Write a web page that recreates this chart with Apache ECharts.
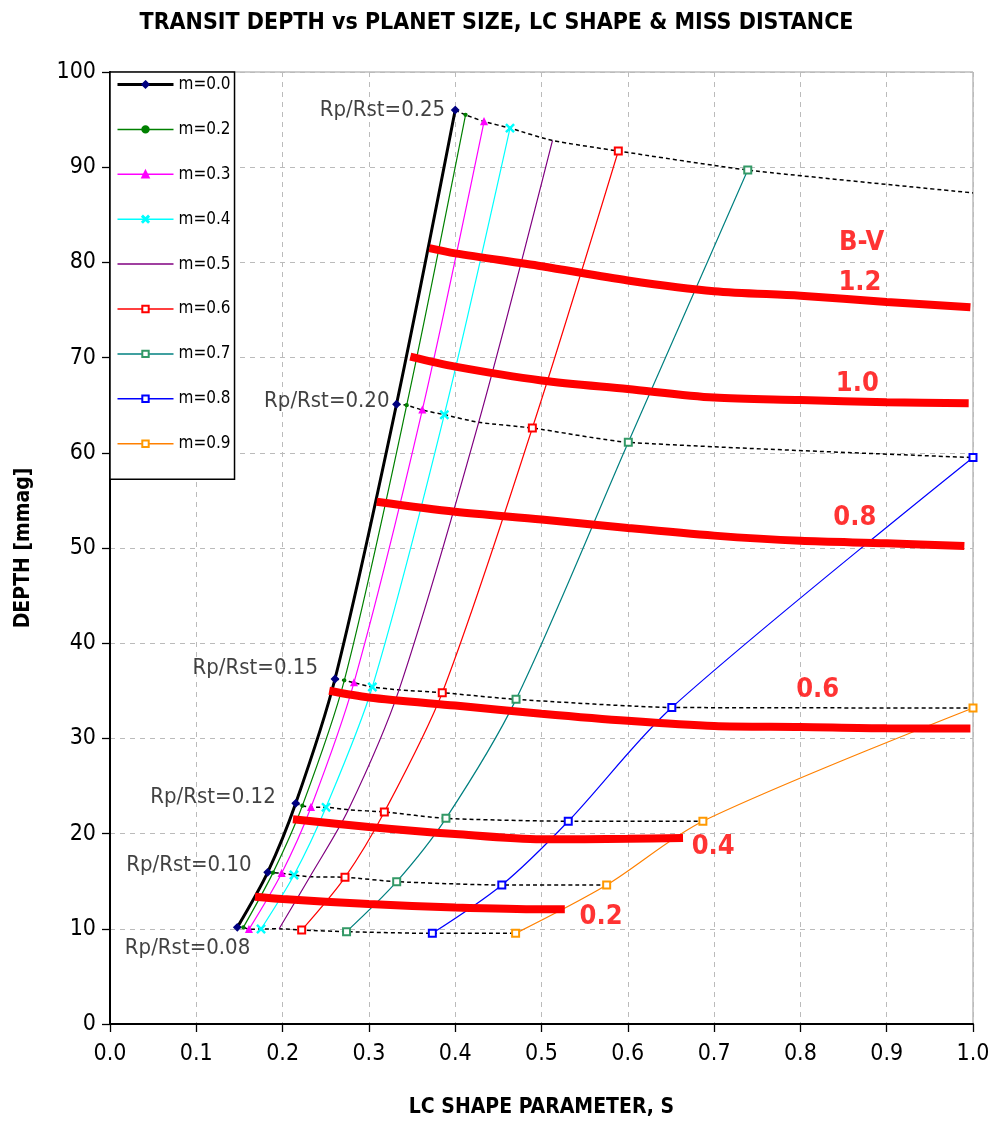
<!DOCTYPE html>
<html>
<head>
<meta charset="utf-8">
<script src="https://cdn.jsdelivr.net/npm/echarts@6/dist/echarts.min.js"></script>
<style>
html,body{margin:0;padding:0;background:#fff;}
#chart{width:993px;height:1135px;}
</style>
</head>
<body>
<div id="chart"></div>
<script>
// ---- DATA ----
const rpValues = [0.08, 0.10, 0.12, 0.15, 0.20, 0.25];
const rpLabels = ['Rp/Rst=0.08', 'Rp/Rst=0.10', 'Rp/Rst=0.12', 'Rp/Rst=0.15', 'Rp/Rst=0.20', 'Rp/Rst=0.25'];
const mNames = ['m=0.0', 'm=0.2', 'm=0.3', 'm=0.4', 'm=0.5', 'm=0.6', 'm=0.7', 'm=0.8', 'm=0.9'];
// [S, depth] for Rp/Rst = 0.08, 0.10, 0.12, 0.15, 0.20, 0.25
const m00 = [[0.1475, 10.15], [0.1827, 15.93], [0.2152, 23.18], [0.2607, 36.24], [0.332, 65.1], [0.400, 96.0]];
const m02 = [[0.1545, 10.15], [0.1889, 15.9], [0.2229, 22.93], [0.2715, 36.1], [0.3438, 65.0], [0.412, 95.5]];
const m03 = [[0.161, 9.94], [0.1989, 15.83], [0.2329, 22.76], [0.2827, 35.85], [0.3619, 64.5], [0.4334, 94.8]];
const m04 = [[0.175, 9.98], [0.2132, 15.65], [0.2503, 22.76], [0.304, 35.4], [0.3874, 64.0], [0.4635, 94.1]];
const m05 = [[0.196, 10.0], [0.2317, 15.47], [0.2762, 22.5], [0.3349, 35.1], [0.4272, 63.2], [0.5127, 92.8]];
const m06 = [[0.2221, 9.87], [0.2723, 15.41], [0.3179, 22.27], [0.385, 34.8], [0.4894, 62.6], [0.589, 91.7]];
const m07 = [[0.2741, 9.7], [0.3322, 14.95], [0.3893, 21.6], [0.4705, 34.1], [0.6006, 61.1], [0.739, 89.7]];
const m08 = [[0.3735, 9.52], [0.454, 14.6], [0.531, 21.3], [0.651, 33.25], [1.0, 59.5]];
const m09 = [[0.470, 9.52], [0.5755, 14.6], [0.687, 21.3], [1.0, 33.2]];
const rp025Edge = [1.0, 87.3];   // Rp/Rst=0.25 curve where it leaves the plot at S=1

// B-V curves
const bvNames = ['0.2', '0.4', '0.6', '0.8', '1.0', '1.2'];
const bv02 = [[0.168, 13.37], [0.2, 13.13], [0.3, 12.6], [0.4, 12.24], [0.5, 12.05], [0.527, 12.05]];
const bv04 = [[0.212, 21.5], [0.3, 20.7], [0.4, 19.95], [0.5, 19.4], [0.6, 19.45], [0.664, 19.55]];
const bv06 = [[0.254, 35.0], [0.3, 34.3], [0.4, 33.45], [0.5, 32.6], [0.6, 31.85], [0.7, 31.3], [0.8, 31.2], [0.9, 31.06], [0.997, 31.05]];
const bv08 = [[0.309, 54.85], [0.4, 53.8], [0.5, 53.0], [0.6, 52.1], [0.7, 51.3], [0.8, 50.75], [0.9, 50.5], [0.99, 50.2]];
const bv10 = [[0.348, 70.1], [0.4, 69.05], [0.5, 67.6], [0.6, 66.7], [0.7, 65.8], [0.8, 65.55], [0.9, 65.3], [0.995, 65.2]];
const bv12 = [[0.370, 81.5], [0.4, 80.95], [0.5, 79.6], [0.6, 78.1], [0.7, 76.97], [0.8, 76.5], [0.9, 75.85], [0.997, 75.3]];
// annotation text positions (data coords)
const bvLabelTexts = ['B-V', '1.2', '1.0', '0.8', '0.6', '0.4', '0.2'];
const bvLabelPos = [[0.871, 82.0], [0.869, 77.8], [0.866, 67.2], [0.863, 53.15], [0.820, 35.1], [0.699, 18.6], [0.569, 11.24]];

// ---- STYLE ----
const FONT = "'DejaVu Sans Condensed','Liberation Sans Narrow','Arial Narrow',sans-serif";
const mSeriesData = [m00, m02, m03, m04, m05, m06, m07, m08, m09];
const mStyles = [
  {line: '#000000', item: '#000080', width: 3, symbol: 'diamond', size: 7},
  {line: '#008000', item: '#008000', width: 1.2, symbol: 'circle', size: 3},
  {line: '#FF00FF', item: '#FF00FF', width: 1.2, symbol: 'triangle', size: 6},
  {line: '#00FFFF', item: '#00FFFF', width: 1.2, symbol: 'path://M0,1L1,0L5,4L9,0L10,1L6,5L10,9L9,10L5,6L1,10L0,9L4,5Z', size: 8},
  {line: '#800080', item: '#800080', width: 1.2, symbol: 'none', size: 0},
  {line: '#FF0000', item: '#FF0000', width: 1.2, symbol: 'emptyRect', size: 7},
  {line: '#008080', item: '#339966', width: 1.2, symbol: 'emptyRect', size: 7},
  {line: '#0000FF', item: '#0000FF', width: 1.2, symbol: 'emptyRect', size: 7},
  {line: '#FF8000', item: '#FF9900', width: 1.2, symbol: 'emptyRect', size: 7}
];
const rpLabelOffsets = [[18, 21], [-11, -7], [-15, -6], [-12, -11], [-2, -3], [-5, 0]];

const series = [];

// iso-size dotted curves
rpValues.forEach((rp, i) => {
  const pts = [];
  mSeriesData.forEach(arr => { if (arr[i]) pts.push(arr[i]); });
  if (i === 5) pts.push(rp025Edge);
  series.push({
    type: 'line', name: rpLabels[i], data: pts, symbol: 'none', z: 2,
    smooth: 0.2, lineStyle: {color: '#000', width: 1.5, type: [4, 3]},
    silent: true, clip: true
  });
});

// Rp/Rst labels, attached to the m=0.0 points
series.push({
  type: 'scatter', name: 'rplabels', symbolSize: 0, z: 6, silent: true,
  data: m00.map((p, i) => ({
    value: p, name: rpLabels[i],
    label: {offset: rpLabelOffsets[i]}
  })),
  label: {show: true, position: 'left', distance: 5, formatter: p => p.name,
    color: '#111', fontSize: 22, fontFamily: FONT}
});

// m curves
mSeriesData.forEach((arr, j) => {
  const st = mStyles[j];
  series.push({
    type: 'line', name: mNames[j], data: arr, smooth: 0.3, z: 3,
    symbol: st.symbol, symbolSize: st.size, showSymbol: st.symbol !== 'none',
    lineStyle: {color: st.line, width: st.width},
    itemStyle: {color: st.item, borderColor: st.item, borderWidth: 1.3}
  });
});

// B-V thick curves
[bv02, bv04, bv06, bv08, bv10, bv12].forEach((arr, k) => {
  series.push({
    type: 'line', name: 'B-V ' + bvNames[k], data: arr, smooth: 0.3, symbol: 'none', z: 4,
    lineStyle: {color: '#FF0000', width: 8, cap: 'butt'}
  });
});

// B-V annotation labels
series.push({
  type: 'scatter', name: 'bvlabels', symbolSize: 0, z: 5, silent: true,
  data: bvLabelPos.map((p, i) => ({value: p, name: bvLabelTexts[i]})),
  label: {show: true, position: 'inside', formatter: p => p.name, color: '#FF0000',
    fontWeight: 'bold', fontSize: 27, fontFamily: FONT}
});

const legendData = mNames.map((n, j) => {
  const item = {name: n, lineStyle: {width: mStyles[j].width === 3 ? 3 : 1.5}};
  if (mStyles[j].symbol === 'none') item.itemStyle = {opacity: 0};
  return item;
});

const chart = echarts.init(document.getElementById('chart'), null, {renderer: 'canvas'});
chart.setOption({
  animation: false,
  backgroundColor: '#fff',
  title: {
    text: 'TRANSIT DEPTH vs PLANET SIZE, LC SHAPE & MISS DISTANCE',
    left: 'center', top: 7,
    textStyle: {fontSize: 23, fontWeight: 'bold', color: '#000', fontFamily: FONT}
  },
  grid: {left: 110, right: 20, top: 72, bottom: 111, show: true, borderColor: '#999', borderWidth: 1},
  legend: {
    data: legendData, orient: 'vertical', left: 110, top: 72,
    itemWidth: 56, itemHeight: 8, itemGap: 27.9,
    padding: [4, 4, 27, 6],
    backgroundColor: '#fff', borderColor: '#000', borderWidth: 1.5,
    textStyle: {fontSize: 17, lineHeight: 16, color: '#000', fontFamily: FONT}, z: 10
  },
  xAxis: {
    type: 'value', min: 0, max: 1, interval: 0.1,
    name: 'LC SHAPE PARAMETER, S', nameLocation: 'middle', nameGap: 73,
    nameTextStyle: {fontSize: 21, fontWeight: 'bold', color: '#000', fontFamily: FONT},
    axisLine: {show: true, lineStyle: {color: '#000', width: 2}},
    axisTick: {show: true, length: 8, lineStyle: {color: '#000', width: 1.3}},
    axisLabel: {margin: 19, fontSize: 23, color: '#000', fontFamily: FONT,
      formatter: v => v.toFixed(1)},
    splitLine: {show: true, lineStyle: {color: '#BBBBBB', width: 1, type: [5, 5]}}
  },
  yAxis: {
    type: 'value', min: 0, max: 100, interval: 10,
    name: 'DEPTH [mmag]', nameLocation: 'middle', nameGap: 76, nameRotate: 90,
    nameTextStyle: {fontSize: 21, fontWeight: 'bold', color: '#000', fontFamily: FONT},
    axisLine: {show: true, lineStyle: {color: '#000', width: 2}},
    axisTick: {show: true, length: 8, lineStyle: {color: '#000', width: 1.3}},
    axisLabel: {margin: 14, fontSize: 23, color: '#000', fontFamily: FONT},
    splitLine: {show: true, lineStyle: {color: '#BBBBBB', width: 1, type: [5, 5]}}
  },
  series: series
});
</script>
</body>
</html>
